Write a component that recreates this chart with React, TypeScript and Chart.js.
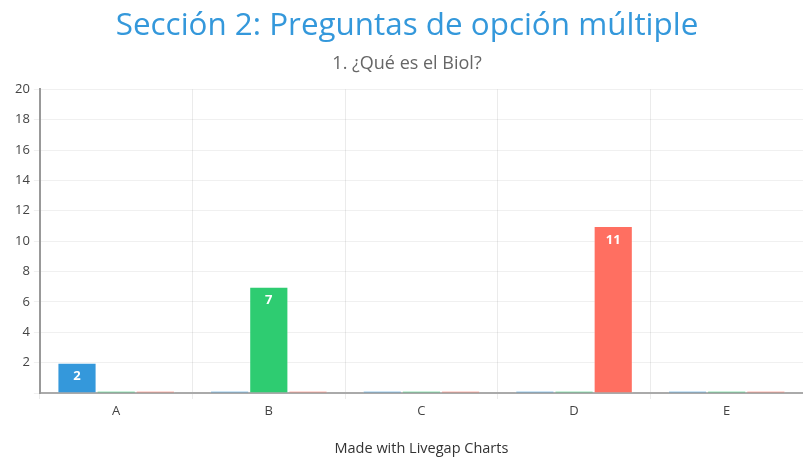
import React, { useEffect, useRef } from "react";
import { Chart, registerables } from "chart.js";

Chart.register(...registerables);

const categories = ["A", "B", "C", "D", "E"];
const seriesBlue = [2, 0, 0, 0, 0];
const seriesGreen = [0, 7, 0, 0, 0];
const seriesRed = [0, 0, 0, 11, 0];
const yTicks = [0, 2, 4, 6, 8, 10, 12, 14, 16, 18, 20];

const FONT = "'Open Sans', 'Noto Sans', sans-serif";

const valueLabels = {
  id: "valueLabels",
  afterDatasetsDraw(chart: any) {
    const ctx = chart.ctx;
    ctx.save();
    ctx.fillStyle = "#ffffff";
    ctx.font = `bold 13px ${FONT}`;
    ctx.textAlign = "center";
    ctx.textBaseline = "middle";
    chart.data.datasets.forEach((ds: any, di: number) => {
      const meta = chart.getDatasetMeta(di);
      meta.data.forEach((bar: any, i: number) => {
        const v = ds.data[i];
        if (!v) return;
        ctx.fillText(String(v), bar.x, bar.y + 14);
      });
    });
    ctx.restore();
  },
};

export default function App() {
  const ref = useRef<HTMLCanvasElement>(null);
  useEffect(() => {
    if (!ref.current) return;
    const mk = (label: string, data: number[], color: string) => ({
      label,
      data,
      backgroundColor: color,
      borderColor: "rgba(255,255,255,0.35)",
      borderWidth: 1,
      minBarLength: 2,
      categoryPercentage: 0.77,
      barPercentage: 1,
    });
    const chart = new Chart(ref.current, {
      type: "bar",
      data: {
        labels: categories,
        datasets: [
          mk("Serie 1", seriesBlue, "#3498db"),
          mk("Serie 2", seriesGreen, "#2ecc71"),
          mk("Serie 3", seriesRed, "#ff6f61"),
        ],
      },
      options: {
        animation: false,
        responsive: false,
        maintainAspectRatio: false,
        layout: { padding: { left: 11, right: 0, top: 0, bottom: 0 } },
        plugins: {
          legend: { display: false },
          tooltip: { enabled: false },
          title: {
            display: true,
            text: "Sección 2: Preguntas de opción múltiple",
            color: "#3498db",
            font: { family: FONT, size: 31.4, weight: "normal" },
            padding: { top: 7, bottom: 8 },
          },
          subtitle: {
            display: true,
            text: "1. ¿Qué es el Biol?",
            color: "#666666",
            font: { family: FONT, size: 18, weight: "normal" },
            padding: { top: 0, bottom: 15 },
          },
        },
        scales: {
          x: {
            grid: {
              color: "rgba(0,0,0,0.08)",
              tickLength: 6,
              offset: true,
            },
            border: { color: "#aaaaaa", width: 2 },
            ticks: { color: "#444", font: { family: FONT, size: 13 }, padding: 4 },
            title: {
              display: true,
              text: "Made with Livegap Charts",
              color: "#333",
              font: { family: FONT, size: 14.5 },
              padding: { top: 18, bottom: 0 },
            },
          },
          y: {
            min: 0,
            max: 20,
            afterBuildTicks(scale: any) {
              scale.ticks = yTicks.map((v) => ({ value: v }));
            },
            grid: { color: "rgba(0,0,0,0.06)", tickLength: 6 },
            border: { color: "#999999", width: 2 },
            ticks: {
              color: "#444",
              font: { family: FONT, size: 13 },
              padding: 4,
              callback: (v: any) => (v === 0 ? "" : String(v)),
            },
          },
        },
      },
      plugins: [valueLabels],
    });
    return () => chart.destroy();
  }, []);
  return (
    <div style={{ position: "fixed", left: 0, top: 0, width: 803, height: 458, background: "#fff" }}>
      <canvas ref={ref} width={803} height={458} style={{ width: 803, height: 458 }} />
    </div>
  );
}
